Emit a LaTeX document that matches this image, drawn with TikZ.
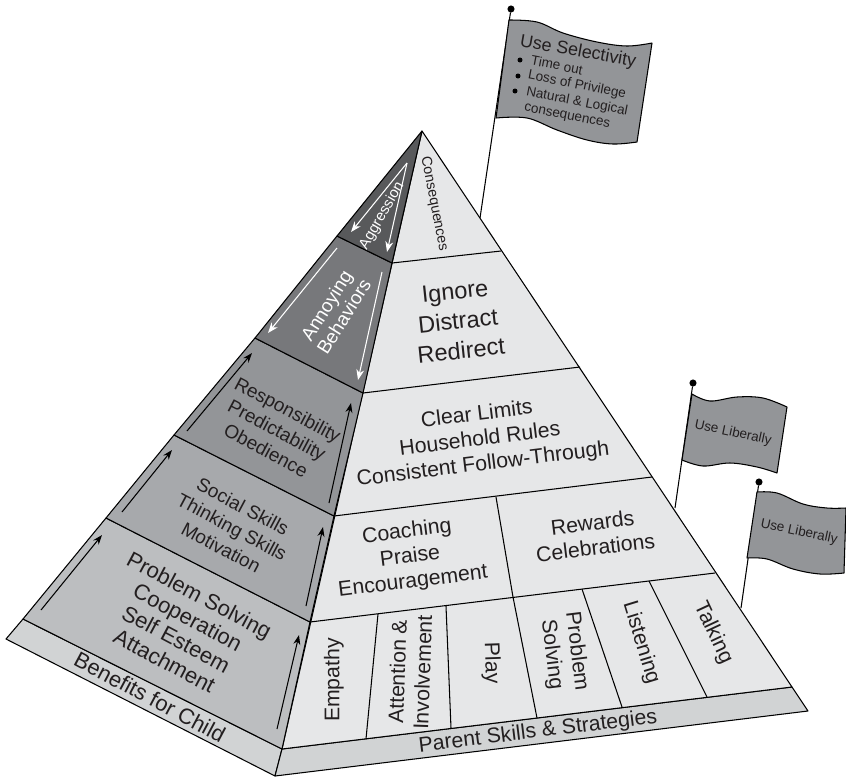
\documentclass[tikz,border=0pt]{standalone}
\usepackage{fontspec}
\setmainfont{Liberation Sans}
\usetikzlibrary{arrows.meta}
\definecolor{faceright}{HTML}{E6E7E8}
\definecolor{band}{HTML}{D1D3D4}
\definecolor{tierone}{HTML}{BCBEC0}
\definecolor{tiertwo}{HTML}{A7A9AC}
\definecolor{tierthree}{HTML}{939598}
\definecolor{tierfour}{HTML}{77787B}
\definecolor{tierfive}{HTML}{58595B}
\definecolor{inktext}{HTML}{231F20}
\begin{document}
\begin{tikzpicture}[x=.02cm,y=-.02cm]
	\tikzstyle{edge}=[draw,line width = .6pt,-,black!100,line join=round]
	\tikzstyle{pole}=[draw,line width = .6pt,black!100]
	\tikzstyle{knob}=[draw,circle,fill=black,inner sep=0pt,minimum size=3.6pt]
	\tikzstyle{cloth}=[draw,line width = .6pt,fill=tierthree,line join=round]
	\tikzstyle{up}=[draw,line width = .6pt,black!100,-{Stealth[length=5.5pt,width=4pt]}]
	\tikzstyle{down}=[draw,line width = .6pt,white,-{Stealth[length=6pt,width=4.5pt]}]
	\tikzstyle{big}=[align=center,inner sep=0pt,text=inktext,font=\fontsize{13.4}{17}\selectfont]
	\tikzstyle{mid}=[align=center,inner sep=0pt,text=inktext,font=\fontsize{12.1}{14.3}\selectfont]
	\tikzstyle{left}=[align=center,inner sep=0pt,text=inktext,font=\fontsize{12.5}{14.1}\selectfont]
	\tikzstyle{small}=[align=center,inner sep=0pt,text=inktext,font=\fontsize{10.8}{13.2}\selectfont]
	\tikzstyle{flagtext}=[align=center,inner sep=0pt,text=inktext,font=\fontsize{7.7}{9}\selectfont]
	\useasboundingbox (0,0) rectangle (846,779);
	% points of the pyramid
	\coordinate (apex) at (422,131);
	\coordinate (sa) at (392,263);
	\coordinate (sb) at (363,393);
	\coordinate (sc) at (334,516);
	\coordinate (sd) at (310,622);
	\coordinate (se) at (282,749);
	\coordinate (sf) at (275,776);
	\coordinate (la) at (337,236);
	\coordinate (lb) at (255,338);
	\coordinate (lc) at (174,435);
	\coordinate (ld) at (106,518);
	\coordinate (le) at (23,619);
	\coordinate (lf) at (6,639);
	\coordinate (ra) at (501,251);
	\coordinate (rb) at (580,367);
	\coordinate (rc) at (652,477);
	\coordinate (rd) at (715,573);
	\coordinate (re) at (792,687);
	\coordinate (rf) at (808,711);
	% flags
	\coordinate (bigfoot) at (480,218);
	\coordinate (midfoot) at (675,508);
	\coordinate (lowfoot) at (741,608);
	\node[knob] (bigknob) at (511,9) {};
	\node[knob] (midknob) at (693,383) {};
	\node[knob] (lowknob) at (759,482) {};
	\draw[pole] (bigknob) -- (bigfoot);
	\draw[pole] (midknob) -- (midfoot);
	\draw[pole] (lowknob) -- (lowfoot);
	\draw[cloth] plot[smooth,tension=.6] coordinates {(509,20) (537,22) (563,33) (597,42) (627,46) (652,43)}
		-- plot[smooth,tension=.6] coordinates {(637,142) (613,144) (587,140) (557,130) (527,118) (496,118)} -- cycle;
	\draw[cloth] plot[smooth,tension=.6] coordinates {(692,394) (710,401) (737,397) (763,398) (787,407)}
		-- plot[smooth,tension=.6] coordinates {(777,473) (757,467) (730,463) (703,466) (682,460)} -- cycle;
	\draw[cloth] plot[smooth,tension=.6] coordinates {(757,492) (777,493) (803,504) (827,508) (846,508)}
		-- plot[smooth,tension=.6] coordinates {(844,573) (820,574) (793,569) (767,559) (747,558)} -- cycle;
	% faces
	\draw[edge,fill=band] (le) -- (lf) -- (sf) -- (se) -- cycle;
	\draw[edge,fill=band] (se) -- (sf) -- (rf) -- (re) -- cycle;
	\draw[edge,fill=faceright] (apex) -- (re) -- (se) -- cycle;
	\draw[edge,fill=tierone] (ld) -- (le) -- (se) -- (sd) -- cycle;
	\draw[edge,fill=tiertwo] (lc) -- (ld) -- (sd) -- (sc) -- cycle;
	\draw[edge,fill=tierthree] (lb) -- (lc) -- (sc) -- (sb) -- cycle;
	\draw[edge,fill=tierfour] (la) -- (lb) -- (sb) -- (sa) -- cycle;
	\draw[edge,fill=tierfive] (apex) -- (la) -- (sa) -- cycle;
	\draw[edge] (sa) -- (ra);
	\draw[edge] (sb) -- (rb);
	\draw[edge] (sc) -- (rc);
	\draw[edge] (sd) -- (rd);
	\coordinate (ca) at (496,497);
	\coordinate (cb) at (513,597);
	\draw[edge] (ca) -- (cb);
	\coordinate (da) at (378,614);
	\coordinate (db) at (366,739);
	\coordinate (dc) at (446,606);
	\coordinate (dd) at (451,728);
	\coordinate (de) at (537,718);
	\coordinate (df) at (582,589);
	\coordinate (dg) at (622,707);
	\coordinate (dh) at (649,581);
	\coordinate (di) at (707,697);
	\draw[edge] (da) -- (db);
	\draw[edge] (dc) -- (dd);
	\draw[edge] (cb) -- (de);
	\draw[edge] (df) -- (dg);
	\draw[edge] (dh) -- (di);
	% arrows
	\coordinate (ua) at (41,610);
	\coordinate (ub) at (102,535);
	\coordinate (uc) at (277,729);
	\coordinate (ud) at (299,635);
	\coordinate (ue) at (122,512);
	\coordinate (uf) at (172,450);
	\coordinate (ug) at (306,606);
	\coordinate (uh) at (323,527);
	\coordinate (ui) at (187,431);
	\coordinate (uj) at (252,353);
	\coordinate (uk) at (329,503);
	\coordinate (ul) at (351,403);
	\draw[up] (ua) -- (ub);
	\draw[up] (uc) -- (ud);
	\draw[up] (ue) -- (uf);
	\draw[up] (ug) -- (uh);
	\draw[up] (ui) -- (uj);
	\draw[up] (uk) -- (ul);
	\coordinate (wa) at (337,248);
	\coordinate (wb) at (268,333);
	\coordinate (wc) at (382,272);
	\coordinate (wd) at (358,380);
	\coordinate (we) at (407,163);
	\coordinate (wf) at (351,232);
	\coordinate (wg) at (387,252);
	\draw[down] (wa) -- (wb);
	\draw[down] (wc) -- (wd);
	\draw[down] (we) -- (wf);
	\draw[down] (we) -- (wg);
	% right face
	\node[big,rotate=6] (ignore) at (458,321) {Ignore\\Distract\\Redirect};
	\node[mid,rotate=7] (limits) at (480,440) {Clear Limits\\Household Rules\\Consistent Follow-Through};
	\node[mid,rotate=7] (coaching) at (410,557) {Coaching\\Praise\\Encouragement};
	\node[mid,rotate=7] (rewards) at (594,535) {Rewards\\Celebrations};
	\node[mid,rotate=90] (empathy) at (334,680) {Empathy};
	\node[mid,rotate=88] (attention) at (410,672) {Attention \&\\Involvement};
	\node[mid,rotate=-88] (play) at (491,663) {Play};
	\node[mid,rotate=-83] (solving) at (564,653) {Problem\\Solving};
	\node[mid,rotate=-73] (listening) at (641,643) {Listening};
	\node[mid,rotate=-65] (talking) at (713,633) {Talking};
	\node[mid,rotate=7] (parent) at (538,732) {Parent Skills \& Strategies};
	\node[inner sep=0pt,text=inktext,font=\fontsize{8.2}{10}\selectfont,rotate=-79] (consequences) at (434,204) {Consequences};
	% left face
	\node[left,rotate=-28] (benefits) at (150,697) {Benefits for Child};
	\node[left,rotate=-28] (problem) at (182,628) {Problem Solving\\Cooperation\\Self Esteem\\Attachment};
	\node[small,rotate=-28] (social) at (232,527) {Social Skills\\Thinking Skills\\Motivation};
	\node[small,rotate=-28] (responsibility) at (277,430) {Responsibility\\Predictability\\Obedience};
	\node[small,rotate=58,text=white,font=\fontsize{10.8}{11.7}\selectfont] (annoying) at (335,311) {Annoying\\Behaviors};
	\node[inner sep=0pt,text=white,font=\fontsize{8.5}{10}\selectfont,rotate=60] (aggression) at (382,216) {Aggression};
	% flag texts
	\node[inner sep=0pt,text=inktext,font=\fontsize{10.2}{12}\selectfont,rotate=-10] (selectivity) at (578,52) {Use Selectivity};
	\node[flagtext,rotate=-11] (timeout) at (557,65) {Time out};
	\node[flagtext,rotate=-11] (privilege) at (577,85) {Loss of Privilege};
	\node[flagtext,rotate=-11] (natural) at (577,102) {Natural \& Logical};
	\node[flagtext,rotate=-11] (logical) at (567,117) {consequences};
	\node[knob,minimum size=2.4pt] (dota) at (520,60) {};
	\node[knob,minimum size=2.4pt] (dotb) at (518,76) {};
	\node[knob,minimum size=2.4pt] (dotc) at (515,91) {};
	\node[flagtext,rotate=-12] (liberala) at (733,433) {Use Liberally};
	\node[flagtext,rotate=-12] (liberalb) at (799,532) {Use Liberally};
\end{tikzpicture}
\end{document}
